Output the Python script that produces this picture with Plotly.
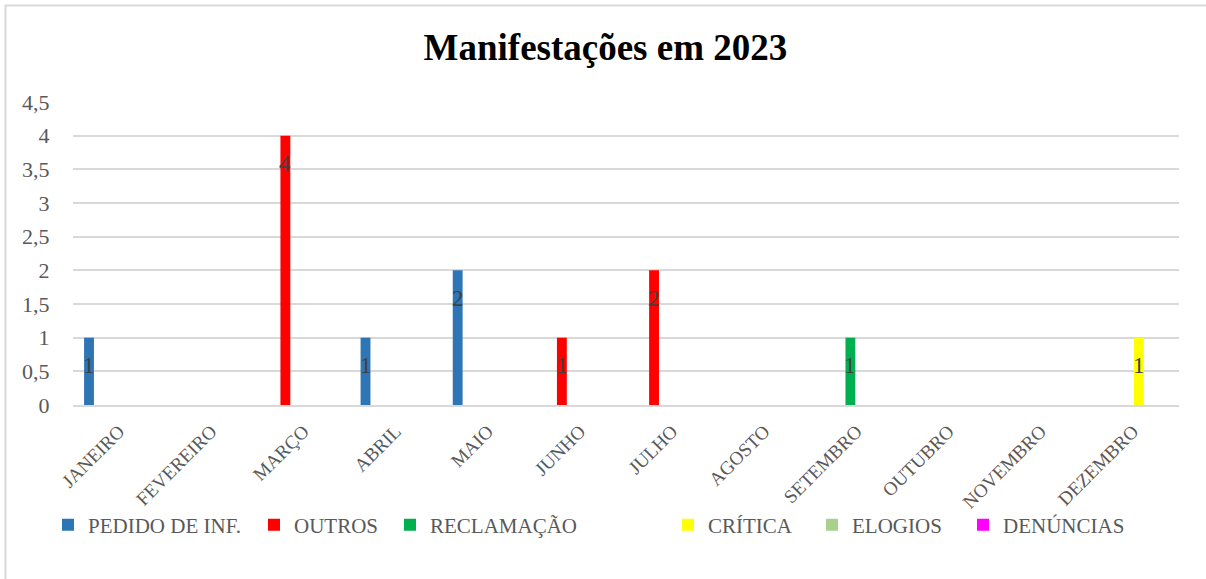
import plotly.graph_objects as go

months = ["JANEIRO", "FEVEREIRO", "MARÇO", "ABRIL", "MAIO", "JUNHO",
          "JULHO", "AGOSTO", "SETEMBRO", "OUTUBRO", "NOVEMBRO", "DEZEMBRO"]
series_names = ["PEDIDO DE INF.", "OUTROS", "RECLAMAÇÃO", "CRÍTICA", "ELOGIOS", "DENÚNCIAS"]
pedido = [1, None, None, 1, 2, None, None, None, None, None, None, None]
outros = [None, None, 4, None, None, 1, 2, None, None, None, None, None]
reclamacao = [None, None, None, None, None, None, None, None, 1, None, None, None]
critica = [None, None, None, None, None, None, None, None, None, None, None, 1]
elogios = [None] * 12
denuncias = [None] * 12
y_ticks = [0, 0.5, 1, 1.5, 2, 2.5, 3, 3.5, 4, 4.5]

series_values = [pedido, outros, reclamacao, critica, elogios, denuncias]
colors = ["#2E75B6", "#FF0000", "#00B050", "#FFFF00", "#A9D18E", "#FF00FF"]

W, H = 1206, 579
ML, MR, MT, MB = 73, 27, 102, 174
PW = W - ML - MR
PH = H - MT - MB

BARGAP = 0.217
slot = PW / len(months) * (1 - BARGAP) / len(series_names)

# legend text start positions (px) in reference
legend_text_x = [88, 294, 430, 708, 852, 1003]

fig = go.Figure()
annotations = []
for i, (name, vals, col) in enumerate(zip(series_names, series_values, colors)):
    lg = "legend" if i == 0 else f"legend{i+1}"
    fig.add_trace(go.Bar(
        x=months, y=vals, name=name, marker=dict(color=col, line=dict(width=0)),
        legend=lg, hoverinfo="x+y+name",
    ))
    for m, v in zip(months, vals):
        if v is not None:
            annotations.append(dict(
                x=m, y=v, xref="x", yref="y", text=str(v), showarrow=False,
                xshift=(i - 2.5) * slot, yshift=-28, yanchor="middle",
                font=dict(family="Liberation Serif", size=23, color="#404040"),
            ))

layout_legends = {}
for i in range(len(series_names)):
    key = "legend" if i == 0 else f"legend{i+1}"
    xpx = legend_text_x[i] - 40
    layout_legends[key] = dict(
        x=(xpx - ML) / PW, xref="paper", xanchor="left",
        y=(MT + PH - 525) / PH, yref="paper", yanchor="middle",
        orientation="h", bgcolor="rgba(0,0,0,0)", borderwidth=0,
        font=dict(family="Liberation Serif", size=21, color="#595959"),
        itemclick=False, itemdoubleclick=False, tracegroupgap=0,
    )

fig.update_layout(
    width=W, height=H,
    margin=dict(l=ML, r=MR, t=MT, b=MB, autoexpand=False),
    paper_bgcolor="white", plot_bgcolor="white",
    barmode="group", bargap=BARGAP, bargroupgap=0.18,
    separators=",.",
    showlegend=True,
    title=dict(text="<b>Manifestações em 2023</b>", x=0.502, xref="container", xanchor="center",
               y=1 - 47 / H, yref="container", yanchor="middle",
               font=dict(family="Liberation Serif", size=37, color="#000000")),
    xaxis=dict(
        categoryorder="array", categoryarray=months,
        tickangle=-45, showgrid=False, ticks="outside", ticklen=6, tickcolor="rgba(0,0,0,0)",
        showline=True, linecolor="#D9D9D9", linewidth=1.5,
        tickfont=dict(family="Liberation Serif", size=19, color="#595959"),
        zeroline=False,
    ),
    yaxis=dict(
        range=[0, 4.5], tickvals=y_ticks, showgrid=True, gridcolor="#D9D9D9", gridwidth=1.5,
        zeroline=False, showline=False, ticks="outside", ticklen=18, tickcolor="rgba(0,0,0,0)",
        tickfont=dict(family="Liberation Serif", size=22, color="#595959"),
    ),
    annotations=annotations,
    shapes=[dict(type="rect", xref="paper", yref="paper",
                 x0=(5.5 - ML) / PW, x1=(1215 - ML) / PW,
                 y0=(MT + PH - 600) / PH, y1=(MT + PH - 5.5) / PH,
                 line=dict(color="#D9D9D9", width=2), fillcolor="rgba(0,0,0,0)", layer="below")],
    **layout_legends,
)

fig.write_html("out.html")
